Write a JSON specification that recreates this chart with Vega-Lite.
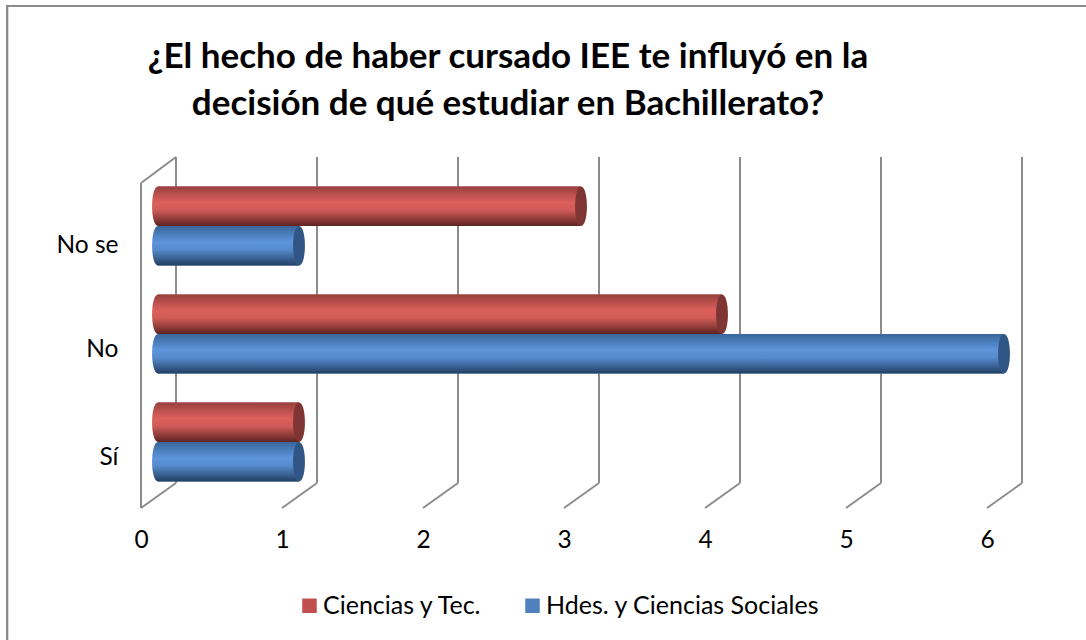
{"$schema":"https://vega.github.io/schema/vega-lite/v6.json","width":846,"height":351,"autosize":{"type":"none"},"padding":{"left":141,"top":157,"right":99,"bottom":132},"background":"white","title":{"text":["¿El hecho de haber cursado IEE te influyó en la","decisión de qué estudiar en Bachillerato?"],"font":"Lato","fontSize":35,"fontWeight":"bold","color":"#000000","anchor":"middle","align":"center","dx":-56,"offset":-117,"lineHeight":47},"config":{"view":{"stroke":null},"font":"Lato"},"resolve":{"scale":{"y":"independent"}},"layer":[{"data":{"values":[{"v":0},{"v":1},{"v":2},{"v":3},{"v":4},{"v":5},{"v":6}]},"layer":[{"mark":{"type":"rect","fill":null,"stroke":"#8c8c8c","strokeWidth":2},"encoding":{"x":{"datum":-0.95,"type":"quantitative","scale":{"domain":[0,6],"nice":false},"axis":{"title":null,"grid":false,"domain":false,"ticks":false,"labelFont":"Lato","labelFontSize":24.5,"labelColor":"#000000","labelPadding":20,"labelFlush":false,"values":[0,1,2,3,4,5,6],"format":"d"}},"x2":{"datum":6.766},"y":{"datum":-140,"type":"quantitative","scale":{"domain":[0,351],"nice":false},"axis":null},"y2":{"datum":502}}},{"mark":{"type":"rule","stroke":"#8c8c8c","strokeWidth":2,"xOffset":35},"encoding":{"x":{"field":"v","type":"quantitative"},"y":{"datum":25,"type":"quantitative"},"y2":{"datum":351}}},{"mark":{"type":"rule","stroke":"#8c8c8c","strokeWidth":2,"x2Offset":35},"encoding":{"x":{"field":"v","type":"quantitative"},"x2":{"field":"v"},"y":{"datum":0,"type":"quantitative"},"y2":{"datum":25}}},{"transform":[{"filter":"datum.v==0"}],"mark":{"type":"rule","stroke":"#8c8c8c","strokeWidth":2},"encoding":{"x":{"field":"v","type":"quantitative"},"y":{"datum":0,"type":"quantitative"},"y2":{"datum":325}}},{"transform":[{"filter":"datum.v==0"}],"mark":{"type":"rule","stroke":"#8c8c8c","strokeWidth":2,"x2Offset":35},"encoding":{"x":{"field":"v","type":"quantitative"},"x2":{"field":"v"},"y":{"datum":325,"type":"quantitative"},"y2":{"datum":351}}}]},{"data":{"values":[{"cat":"No se","serie":"Ciencias y Tec.","value":3},{"cat":"No se","serie":"Hdes. y Ciencias Sociales","value":1},{"cat":"No","serie":"Ciencias y Tec.","value":4},{"cat":"No","serie":"Hdes. y Ciencias Sociales","value":6},{"cat":"Sí","serie":"Ciencias y Tec.","value":1},{"cat":"Sí","serie":"Hdes. y Ciencias Sociales","value":1}]},"encoding":{"y":{"field":"cat","type":"nominal","sort":["No se","No","Sí"],"scale":{"paddingInner":0,"paddingOuter":0.125,"align":0.556},"axis":{"orient":"left","title":null,"domain":false,"ticks":false,"grid":false,"labelFont":"Lato","labelFontSize":24.5,"labelColor":"#000000","labelPadding":23,"labelOffset":{"condition":{"test":"datum.value=='No se'","value":20},"value":16}}},"yOffset":{"field":"serie","type":"nominal","sort":["Ciencias y Tec.","Hdes. y Ciencias Sociales"],"scale":{"paddingInner":0,"paddingOuter":0.367}},"x":{"field":"value","type":"quantitative"}},"layer":[{"mark":{"type":"bar","xOffset":17,"x2Offset":17},"encoding":{"color":{"field":"serie","type":"nominal","scale":{"domain":["Ciencias y Tec.","Hdes. y Ciencias Sociales"],"range":["#c0504d","#4f81bd"]},"legend":{"title":null,"orient":"none","legendX":156,"legendY":436,"direction":"horizontal","columns":2,"symbolType":"square","symbolSize":210,"symbolStrokeWidth":0,"symbolOpacity":1,"labelFont":"Lato","labelFontSize":25,"labelColor":"#000000","labelLimit":400,"columnPadding":37,"labelOffset":1}}}},{"transform":[{"filter":"datum.serie=='Ciencias y Tec.'"}],"mark":{"type":"bar","xOffset":17,"x2Offset":17,"fill":{"gradient":"linear","x1":0,"y1":0,"x2":0,"y2":1,"stops":[{"offset":0,"color":"#97403e"},{"offset":0.4,"color":"#dc605c"},{"offset":0.6,"color":"#d05b57"},{"offset":1,"color":"#5c2422"}]}}},{"transform":[{"filter":"datum.serie=='Ciencias y Tec.'"}],"mark":{"type":"point","filled":true,"opacity":1,"size":1560,"xOffset":17,"shape":"M0,-1C0.4,-1 0.4,1 0,1C-0.4,1 -0.4,-1 0,-1Z","fill":"#7e3533","stroke":null}},{"transform":[{"filter":"datum.serie=='Ciencias y Tec.'"}],"mark":{"type":"point","filled":true,"opacity":1,"size":1560,"xOffset":17,"shape":"M0,-1C0.4,-1 0.4,1 0,1C-0.4,1 -0.4,-1 0,-1Z","fill":{"gradient":"linear","x1":0,"y1":0,"x2":0,"y2":1,"stops":[{"offset":0,"color":"#97403e"},{"offset":0.4,"color":"#dc605c"},{"offset":0.6,"color":"#d05b57"},{"offset":1,"color":"#5c2422"}]},"stroke":null},"encoding":{"x":{"datum":0,"type":"quantitative"}}},{"transform":[{"filter":"datum.serie!='Ciencias y Tec.'"}],"mark":{"type":"bar","xOffset":17,"x2Offset":17,"fill":{"gradient":"linear","x1":0,"y1":0,"x2":0,"y2":1,"stops":[{"offset":0,"color":"#39659a"},{"offset":0.4,"color":"#5c95dc"},{"offset":0.6,"color":"#568bcd"},{"offset":1,"color":"#223f63"}]}}},{"transform":[{"filter":"datum.serie!='Ciencias y Tec.'"}],"mark":{"type":"point","filled":true,"opacity":1,"size":1560,"xOffset":17,"shape":"M0,-1C0.4,-1 0.4,1 0,1C-0.4,1 -0.4,-1 0,-1Z","fill":"#2f5684","stroke":null}},{"transform":[{"filter":"datum.serie!='Ciencias y Tec.'"}],"mark":{"type":"point","filled":true,"opacity":1,"size":1560,"xOffset":17,"shape":"M0,-1C0.4,-1 0.4,1 0,1C-0.4,1 -0.4,-1 0,-1Z","fill":{"gradient":"linear","x1":0,"y1":0,"x2":0,"y2":1,"stops":[{"offset":0,"color":"#39659a"},{"offset":0.4,"color":"#5c95dc"},{"offset":0.6,"color":"#568bcd"},{"offset":1,"color":"#223f63"}]},"stroke":null},"encoding":{"x":{"datum":0,"type":"quantitative"}}}]}]}
